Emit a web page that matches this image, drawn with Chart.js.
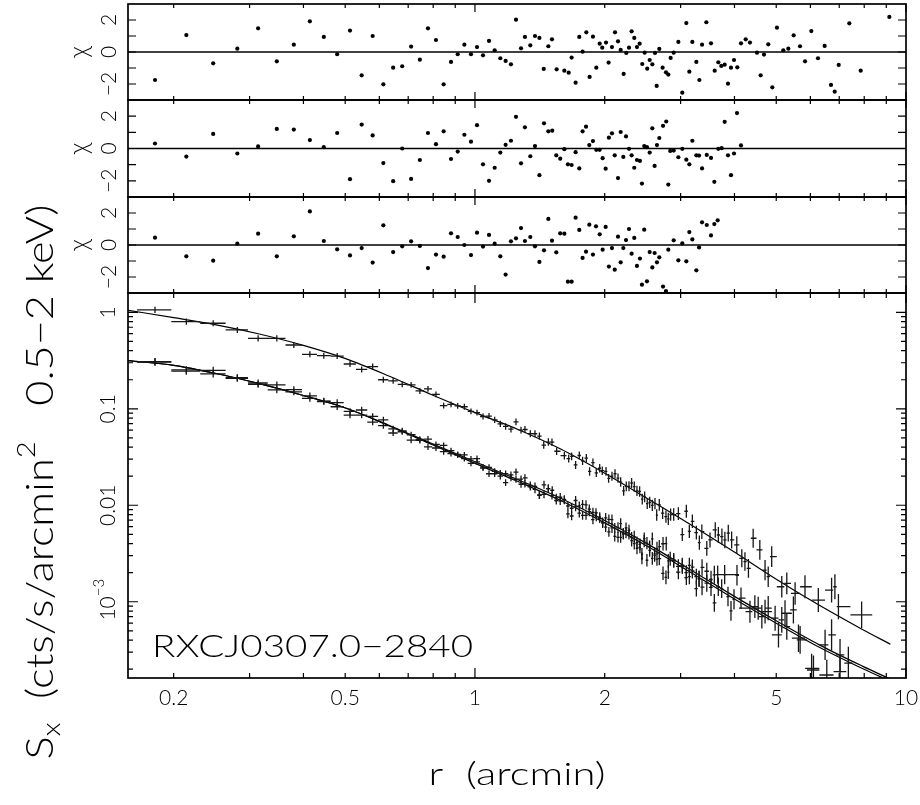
<!DOCTYPE html>
<html>
<head>
<meta charset="utf-8">
<script src="https://cdn.jsdelivr.net/npm/chart.js@4.4.1/dist/chart.umd.min.js"></script>
<style>
html, body { margin: 0; padding: 0; background: #fff; }
#wrap { position: relative; width: 920px; height: 805px; }
#wrap canvas { position: absolute; left: 0; top: 0; }
</style>
</head>
<body>
<div id="wrap">
  <canvas id="chi1" width="920" height="805"></canvas>
  <canvas id="chi2" width="920" height="805"></canvas>
  <canvas id="chi3" width="920" height="805"></canvas>
  <canvas id="prof" width="920" height="805"></canvas>
</div>
<script>
// ---- axes / ticks ----
const xMin = 0.1567, xMax = 10;
const xMajorTicks = [1, 10];
const xMinorTicks = [0.2, 0.3, 0.4, 0.5, 0.6, 0.7, 0.8, 0.9, 2, 3, 4, 5, 6, 7, 8, 9];
const xTickLabels = [0.2, 0.5, 1, 2, 5, 10];
const chiTicks = [-2, -1, 0, 1, 2];
const chiTickLabels = [2, 0, -2];
const sbMin = 1.62e-4, sbMax = 1.585;
const sbMajorTicks = [1, 0.1, 0.01, 0.001];
const sbTickLabels = ['1', '0.1', '0.01', '10^-3'];

// ---- residual panels (chi) ----
const chiR1 = [0.181,0.214,0.247,0.281,0.314,0.347,0.380,0.414,0.446,0.479,
  0.513,0.546,0.579,0.613,0.646,0.678,0.711,0.745,0.778,0.812,
  0.846,0.880,0.912,0.945,0.979,1.011,1.044,1.078,1.111,1.145,
  1.178,1.212,1.245,1.279,1.306,1.344,1.378,1.411,1.444,1.480,
  1.509,1.547,1.612,1.650,1.676,1.712,1.746,1.777,1.813,1.845,
  1.878,1.912,1.947,1.974,2.014,2.042,2.079,2.113,2.147,2.178,
  2.213,2.244,2.277,2.309,2.342,2.376,2.410,2.444,2.476,2.510,
  2.543,2.579,2.616,2.640,2.677,2.725,2.774,2.809,2.844,2.891,
  2.964,3.027,3.093,3.143,3.194,3.263,3.316,3.364,3.442,3.529,
  3.599,3.669,3.728,3.796,3.864,3.926,3.990,4.061,4.142,4.248,
  4.345,4.511,4.601,4.683,4.792,4.896,5.019,5.192,5.333,5.488,
  5.677,5.832,6.031,6.249,6.476,6.699,6.833,6.981,7.387,7.851,9.149];
const chi1 = [-1.75,1.06,-0.71,0.21,1.48,-0.58,0.46,1.92,0.94,-0.14,
  1.34,-1.46,1.0,-2.02,-0.98,-0.89,0.34,-0.48,1.48,0.75,
  -2.02,-0.62,-0.14,0.46,-0.14,0.31,-0.21,0.69,0.11,-0.39,
  -0.56,-0.77,2.02,0.23,0.94,0.42,1.0,0.88,-1.06,0.36,
  0.79,-1.08,-1.17,-1.29,-0.35,-1.92,0.94,0.02,1.23,-1.56,
  0.96,-0.98,0.52,0.27,0.59,-0.66,0.31,1.23,0.67,0.13,
  -1.37,-0.06,0.27,1.29,0.88,0.31,0.52,-0.75,-0.04,-1.04,
  -0.5,-0.77,-0.06,-2.12,0.19,-0.98,-1.27,-1.41,-0.37,-0.04,
  0.63,-2.54,1.81,-1.23,0.63,-0.62,-1.75,0.46,1.86,0.54,
  -1.17,-0.64,-0.87,-0.79,-1.98,-0.98,-0.5,-0.96,0.54,0.79,
  0.59,-0.04,-1.46,-0.16,0.48,-2.21,1.52,0.11,0.21,1.04,
  0.36,-0.58,1.31,-0.39,0.38,-2.06,-2.48,-0.81,1.79,-1.17,2.19];

const chiR2 = [0.181,0.214,0.247,0.281,0.314,0.347,0.380,0.414,0.446,0.479,
  0.513,0.546,0.579,0.613,0.646,0.678,0.711,0.745,0.778,0.812,
  0.846,0.880,0.912,0.945,0.979,1.011,1.044,1.078,1.111,1.145,
  1.178,1.212,1.245,1.279,1.306,1.344,1.378,1.411,1.446,1.480,
  1.511,1.544,1.577,1.612,1.643,1.676,1.712,1.746,1.777,1.810,
  1.842,1.878,1.912,1.947,1.978,2.010,2.045,2.079,2.110,2.147,
  2.178,2.209,2.241,2.277,2.309,2.342,2.376,2.414,2.440,2.470,
  2.506,2.543,2.579,2.611,2.644,2.677,2.731,2.778,2.809,2.838,
  2.891,2.964,3.027,3.093,3.143,3.194,3.263,3.311,3.364,3.450,
  3.529,3.592,3.669,3.736,3.796,3.864,3.926,3.990,4.054,4.142];
const chi2 = [0.31,-0.5,0.9,-0.31,0.13,1.21,1.17,0.52,0.08,0.96,
  -1.9,1.48,0.81,-0.9,-2.02,0.0,-1.88,-0.71,0.96,0.27,
  1.06,-0.65,-0.19,0.85,0.42,1.44,-0.98,-2.0,-1.19,-0.25,
  0.23,0.48,1.96,-0.92,1.31,-0.48,0.15,-1.65,1.56,1.06,
  1.1,-0.42,-0.63,-0.04,-0.98,-1.02,-0.23,-1.23,1.06,1.35,
  0.21,0.46,-0.08,-0.08,-0.6,-1.25,0.67,0.94,-0.42,-1.83,
  1.02,-0.52,0.75,-0.02,-0.42,-1.19,-0.71,-0.77,-2.17,0.15,
  0.08,-0.25,1.25,-1.08,0.21,0.65,1.4,1.67,-2.23,-0.15,
  -0.13,-0.54,-0.02,-0.69,-0.98,0.48,-0.42,-0.44,-1.23,-0.4,
  -0.58,-2.06,-0.02,0.02,1.65,-0.42,-1.65,-0.31,2.19,0.19];

const chiR3 = [0.181,0.214,0.247,0.281,0.314,0.347,0.380,0.414,0.446,0.479,
  0.513,0.546,0.579,0.613,0.646,0.678,0.711,0.745,0.778,0.812,
  0.846,0.880,0.912,0.945,0.979,1.011,1.044,1.078,1.111,1.145,
  1.178,1.212,1.245,1.279,1.306,1.344,1.378,1.411,1.446,1.480,
  1.509,1.544,1.577,1.612,1.643,1.676,1.712,1.746,1.777,1.810,
  1.842,1.878,1.909,1.947,1.978,2.010,2.045,2.079,2.110,2.147,
  2.178,2.209,2.241,2.277,2.309,2.342,2.376,2.414,2.440,2.470,
  2.506,2.543,2.579,2.611,2.644,2.677,2.731,2.774,2.809,2.891,
  2.964,3.027,3.093,3.143,3.194,3.263,3.311,3.364,3.450,3.529,
  3.592,3.657];
const chi3 = [0.46,-0.71,-0.98,0.08,0.71,-0.71,0.54,2.1,0.25,-0.27,
  -0.65,-0.19,-1.1,1.23,-0.44,-0.08,0.23,-0.06,-1.44,-0.6,
  -0.73,0.73,0.5,0.0,-0.63,0.77,-0.1,0.63,0.08,-0.71,
  -1.85,0.23,0.42,1.06,0.25,0.5,-0.08,-1.06,-0.33,1.63,
  0.27,-0.46,0.73,0.71,-2.29,-2.29,1.71,0.94,-0.81,-0.42,
  1.27,-0.6,1.17,0.67,-0.29,1.13,-1.35,-0.19,-1.54,0.52,
  -1.08,-0.19,0.31,1.0,-0.54,0.44,-1.31,-0.85,-2.48,0.96,
  -2.27,-0.44,-1.4,-0.5,-1.08,-0.77,-2.6,-2.88,-0.29,0.29,
  -0.96,0.1,-1.02,0.81,0.35,-1.58,-0.15,1.42,1.25,0.6,
  1.31,1.54];

// ---- surface brightness profiles (cts/s/arcmin^2) ----
const upperR = [0.181,0.214,0.247,0.281,0.314,0.347,0.380,0.414,0.446,0.479,
  0.513,0.546,0.579,0.613,0.646,0.678,0.711,0.745,0.778,0.812,
  0.846,0.880,0.912,0.945,0.979,1.011,1.044,1.078,1.111,1.145,
  1.178,1.212,1.245,1.279,1.306,1.344,1.378,1.411,1.444,1.480,
  1.509,1.547,1.612,1.650,1.676,1.712,1.746,1.777,1.813,1.845,
  1.878,1.912,1.947,1.974,2.014,2.042,2.079,2.113,2.147,2.178,
  2.213,2.244,2.277,2.309,2.342,2.376,2.410,2.444,2.476,2.510,
  2.543,2.579,2.616,2.640,2.677,2.725,2.774,2.809,2.844,2.891,
  2.964,3.027,3.093,3.143,3.194,3.263,3.316,
  3.36,3.45,3.51,3.61,3.67,3.74,3.80,3.87,3.94,4.05,
  4.16,4.23,4.31,4.42,4.58,4.71,4.79,4.88,5.15,5.29,
  5.53,5.83,6.26,6.72,6.84,6.97,7.89];
const upperS = [1.06,0.80,0.77,0.656,0.537,0.537,0.458,0.367,0.355,0.352,
  0.291,0.256,0.274,0.200,0.195,0.179,0.177,0.153,0.161,0.141,
  0.108,0.111,0.107,0.105,0.0940,0.0914,0.0832,0.0841,0.0766,0.0698,
  0.0656,0.0614,0.0730,0.0601,0.0610,0.0552,0.0551,0.0521,0.0421,0.0452,
  0.0451,0.0363,0.0327,0.0305,0.0321,0.0262,0.0328,0.0288,0.0308,0.0224,
  0.0276,0.0217,0.0242,0.0228,0.0224,0.0190,0.0200,0.0212,0.0191,0.0174,
  0.0141,0.0157,0.0157,0.0170,0.0156,0.0141,0.0139,0.0116,0.0122,0.0104,
  0.0107,0.00996,0.0104,0.00791,0.0101,0.00830,0.00762,0.00723,0.00800,0.00800,
  0.00820,0.00497,0.00867,0.00536,0.00681,0.00521,0.00410,
  0.00532,0.00358,0.00437,0.00555,0.00492,0.00473,0.00437,0.00513,0.00437,0.00388,
  0.00282,0.00261,0.00222,0.00455,0.00344,0.00213,0.00182,0.00293,0.00143,0.00155,
  0.00122,0.00143,0.00104,0.00132,0.00143,0.00089,0.00073];

const lowerAR = chiR2.concat([4.345,4.46,4.63,4.79,4.97,5.15,5.29,5.48,5.68,6.10,6.49,6.72,7.03,7.35]);
const lowerAS = [0.308,0.246,0.250,0.210,0.185,0.177,0.158,0.136,0.119,0.116,
  0.0861,0.0971,0.0834,0.0670,0.0561,0.0589,0.0473,0.0470,0.0485,0.0427,
  0.0417,0.0344,0.0331,0.0333,0.0303,0.0305,0.0243,0.0212,0.0212,0.0215,
  0.0212,0.0206,0.0221,0.0165,0.0192,0.0155,0.0157,0.0127,0.0163,0.0149,
  0.0143,0.0119,0.0111,0.0113,0.00982,0.00931,0.00964,0.00828,0.0102,0.0101,
  0.00857,0.00843,0.00764,0.00733,0.00665,0.00594,0.00714,0.00709,0.00579,0.00465,
  0.00644,0.00510,0.00582,0.00506,0.00461,0.00400,0.00412,0.00393,0.00312,0.00425,
  0.00405,0.00371,0.00449,0.00303,0.00358,0.00372,0.00399,0.00400,0.00203,0.00279,
  0.00266,0.00232,0.00239,0.00200,0.00182,0.00228,0.00182,0.00173,0.00142,0.00156,
  0.00141,0.000973,0.00143,0.00137,0.00191,0.00113,0.000804,0.00106,0.00188,0.00109,
  0.000789,0.000889,0.000700,0.000857,0.000675,0.000648,0.000552,0.000822,0.000402,0.000196,
  0.000357,0.000453,0.000281,0.000231];

const lowerBR = chiR3.concat([4.54,4.71,5.06,5.24,5.63,6.04,6.55,7.03]);
const lowerBS = [0.305,0.253,0.230,0.207,0.179,0.157,0.150,0.128,0.120,0.105,
  0.0938,0.0861,0.0726,0.0769,0.0619,0.0578,0.0538,0.0482,0.0403,0.0392,
  0.0359,0.0368,0.0337,0.0304,0.0272,0.0281,0.0249,0.0247,0.0224,0.0200,
  0.0172,0.0193,0.0186,0.0187,0.0167,0.0161,0.0146,0.0128,0.0130,0.0149,
  0.0126,0.0112,0.0121,0.0115,0.00813,0.00774,0.0112,0.00986,0.00787,0.00787,
  0.00912,0.00710,0.00834,0.00754,0.00652,0.00740,0.00530,0.00583,0.00475,0.00589,
  0.00465,0.00502,0.00519,0.00548,0.00429,0.00474,0.00358,0.00366,0.00282,0.00451,
  0.00269,0.00340,0.00282,0.00313,0.00276,0.00280,0.00197,0.00179,0.00265,0.00270,
  0.00203,0.00231,0.00178,0.00238,0.00209,0.00137,0.00173,0.00227,0.00207,0.00170,
  0.00190,0.00191,
  0.000857,0.000789,0.000453,0.00076,0.000419,0.000204,0.000174,0.000189];

// error bar half-size in dex, by radius
const upperErr = [[0.15,0.033],[1,0.03],[2,0.045],[3.2,0.07],[5,0.11],[8,0.14],[10,0.15]];
const lowerErr = [[0.15,0.04],[1,0.03],[2,0.05],[3.2,0.08],[5,0.13],[8,0.18],[10,0.2]];

// ---- fitted models ----
const modelR = [0.157,0.2,0.251,0.316,0.398,0.501,0.631,0.794,1,1.259,1.585,1.995,2.512,3.162,3.981,5.012,6.31,7.943,9.2];
const modelUpper = [1.047,0.881,0.741,0.596,0.457,0.331,0.219,0.140,0.0912,0.0610,0.0380,0.0216,0.01175,0.00631,0.00331,0.00170,0.000912,0.000513,0.000363];
const modelLowerA = [0.316,0.282,0.232,0.182,0.138,0.102,0.0676,0.0437,0.0282,0.0184,0.01175,0.0070,0.00398,0.00214,0.00115,0.000631,0.000355,0.000214,0.000158];
const modelLowerB = [0.316,0.282,0.232,0.182,0.138,0.102,0.0668,0.0427,0.0272,0.0176,0.01114,0.00661,0.00376,0.00202,0.00108,0.000596,0.000335,0.000202,0.000150];

const FONT = "Lato, 'Open Sans', Roboto, sans-serif";
const WEIGHT = 300;

function pts(xs, ys) { return xs.map((v, i) => ({ x: v, y: ys[i] })); }

function errAt(table, r) {
  for (let i = 1; i < table.length; i++) {
    if (r <= table[i][0]) {
      const a = table[i - 1], b = table[i];
      const t = (Math.log10(r) - Math.log10(a[0])) / (Math.log10(b[0]) - Math.log10(a[0]));
      return a[1] + t * (b[1] - a[1]);
    }
  }
  return table[table.length - 1][1];
}

// runs of text laid along a (possibly rotated) baseline, centred on x,y
function drawRuns(ctx, runs, x, y, rot, fitWidth, base) {
  ctx.save();
  ctx.translate(x, y);
  if (rot) ctx.rotate(rot);
  let total = 0;
  runs.forEach(r => { ctx.font = `${WEIGHT} ${r.size}px ${FONT}`; r.w = ctx.measureText(r.t).width; total += r.w; });
  const k = fitWidth ? fitWidth / total : 1;
  ctx.scale(k, 1);
  ctx.textBaseline = base || 'alphabetic';
  ctx.textAlign = 'left';
  ctx.fillStyle = '#000';
  let cx = -total / 2;
  runs.forEach(r => {
    ctx.font = `${WEIGHT} ${r.size}px ${FONT}`;
    ctx.fillText(r.t, cx, r.dy || 0);
    cx += r.w;
  });
  ctx.restore();
}

function drawFrame(chart, yTicks, yLen, xMaj, xMin, yMinor, yMinLen) {
  const { ctx, chartArea: a, scales: { x, y } } = chart;
  ctx.save();
  ctx.strokeStyle = '#000';
  ctx.lineWidth = 1.2;
  ctx.beginPath();
  xMinorTicks.forEach(v => {
    const px = x.getPixelForValue(v);
    ctx.moveTo(px, a.bottom); ctx.lineTo(px, a.bottom - xMin);
    ctx.moveTo(px, a.top); ctx.lineTo(px, a.top + xMin);
  });
  xMajorTicks.forEach(v => {
    const px = x.getPixelForValue(v);
    ctx.moveTo(px, a.bottom); ctx.lineTo(px, a.bottom - xMaj);
    ctx.moveTo(px, a.top); ctx.lineTo(px, a.top + xMaj);
  });
  yTicks.forEach(v => {
    const py = y.getPixelForValue(v);
    ctx.moveTo(a.left, py); ctx.lineTo(a.left + yLen, py);
    ctx.moveTo(a.right, py); ctx.lineTo(a.right - yLen, py);
  });
  (yMinor || []).forEach(v => {
    const py = y.getPixelForValue(v);
    ctx.moveTo(a.left, py); ctx.lineTo(a.left + yMinLen, py);
    ctx.moveTo(a.right, py); ctx.lineTo(a.right - yMinLen, py);
  });
  ctx.stroke();
  ctx.lineWidth = 1.7;
  ctx.strokeRect(a.left, a.top, a.right - a.left, a.bottom - a.top);
  ctx.restore();
}

function drawErrorBars(chart, rs, ss, table) {
  const { ctx, chartArea: a, scales: { x, y } } = chart;
  ctx.save();
  ctx.beginPath();
  ctx.rect(a.left, a.top, a.right - a.left, a.bottom - a.top);
  ctx.clip();
  ctx.strokeStyle = '#161616';
  ctx.lineWidth = 1.3;
  ctx.beginPath();
  rs.forEach((r, i) => {
    const lo = i > 0 ? (r - rs[i - 1]) / 2 : (rs[1] - r) / 2;
    const hi = i < rs.length - 1 ? (rs[i + 1] - r) / 2 : lo;
    const f = Math.pow(10, errAt(table, r));
    const px = x.getPixelForValue(r), py = y.getPixelForValue(ss[i]);
    ctx.moveTo(x.getPixelForValue(r - lo), py);
    ctx.lineTo(x.getPixelForValue(r + hi), py);
    ctx.moveTo(px, y.getPixelForValue(ss[i] * f));
    ctx.lineTo(px, y.getPixelForValue(ss[i] / f));
  });
  ctx.stroke();
  ctx.restore();
}

function baseOptions(padTop, padBottom, yScale) {
  return {
    responsive: false,
    animation: false,
    events: [],
    layout: { padding: { left: 128, right: 14, top: padTop, bottom: padBottom } },
    plugins: { legend: { display: false }, tooltip: { enabled: false } },
    scales: {
      x: { type: 'logarithmic', min: xMin, max: xMax, display: false },
      y: Object.assign({ display: false }, yScale)
    }
  };
}

function chiPanel(id, padTop, padBottom, rs, chis) {
  return new Chart(document.getElementById(id), {
    type: 'scatter',
    data: {
      datasets: [{
        data: pts(rs, chis),
        pointRadius: 2.1,
        pointBackgroundColor: '#000',
        pointBorderWidth: 0
      }]
    },
    options: baseOptions(padTop, padBottom, { type: 'linear', min: -3, max: 3 }),
    plugins: [{
      id: 'chiFrame',
      beforeDatasetsDraw(chart) {
        const { ctx, chartArea: a, scales: { y } } = chart;
        const py = y.getPixelForValue(0);
        ctx.save();
        ctx.strokeStyle = '#000';
        ctx.lineWidth = 1.5;
        ctx.beginPath(); ctx.moveTo(a.left, py); ctx.lineTo(a.right, py); ctx.stroke();
        ctx.restore();
      },
      afterDatasetsDraw(chart) {
        const { ctx, scales: { y } } = chart;
        drawFrame(chart, chiTicks, 8, 8, 4);
        chiTickLabels.forEach(v => {
          const t = v < 0 ? '\u2212' + Math.abs(v) : String(v);
          drawRuns(ctx, [{ t, size: 21 }], 109, y.getPixelForValue(v), -Math.PI / 2, null, 'middle');
        });
        drawRuns(ctx, [{ t: '\u03c7', size: 25 }], 79, y.getPixelForValue(0), -Math.PI / 2, null, 'middle');
      }
    }]
  });
}

chiPanel('chi1', 4, 805 - 100, chiR1, chi1);
chiPanel('chi2', 100, 805 - 197, chiR2, chi2);
chiPanel('chi3', 197, 805 - 293, chiR3, chi3);

const sbMinor = [];
[1e-4, 1e-3, 1e-2, 1e-1].forEach(d => { for (let m = 2; m <= 9; m++) sbMinor.push(d * m); });

function modelSet(ys) {
  return {
    data: pts(modelR, ys),
    showLine: true,
    borderColor: '#000',
    borderWidth: 1.2,
    pointRadius: 0,
    cubicInterpolationMode: 'monotone'
  };
}

new Chart(document.getElementById('prof'), {
  type: 'scatter',
  data: {
    datasets: [
      modelSet(modelUpper),
      modelSet(modelLowerA),
      modelSet(modelLowerB),
      { data: pts(upperR, upperS), pointRadius: 0 },
      { data: pts(lowerAR, lowerAS), pointRadius: 0 },
      { data: pts(lowerBR, lowerBS), pointRadius: 0 }
    ]
  },
  options: baseOptions(293, 805 - 678, { type: 'logarithmic', min: sbMin, max: sbMax }),
  plugins: [{
    id: 'profFrame',
    afterDatasetsDraw(chart) {
      const { ctx, scales: { x, y } } = chart;
      drawErrorBars(chart, upperR, upperS, upperErr);
      drawErrorBars(chart, lowerAR, lowerAS, lowerErr);
      drawErrorBars(chart, lowerBR, lowerBS, lowerErr);
      drawFrame(chart, sbMajorTicks, 10, 10, 5, sbMinor, 5);

      // x tick labels
      xTickLabels.forEach(v => {
        drawRuns(ctx, [{ t: String(v), size: 21 }], x.getPixelForValue(v), 698, 0, null, 'middle');
      });
      // y tick labels (rotated)
      sbMajorTicks.forEach((v, i) => {
        const lab = sbTickLabels[i];
        const py = y.getPixelForValue(v);
        if (lab.indexOf('^') > 0) {
          const [b, e] = lab.split('^');
          drawRuns(ctx, [{ t: b, size: 21 }, { t: e.replace('-', '\u2212'), size: 15, dy: -9 }], 108, py - 2, -Math.PI / 2, null, 'middle');
        } else {
          drawRuns(ctx, [{ t: lab, size: 21 }], 108, py, -Math.PI / 2, null, 'middle');
        }
      });
      // cluster name
      ctx.save();
      ctx.font = `${WEIGHT} 31px ${FONT}`;
      ctx.textBaseline = 'alphabetic';
      ctx.fillStyle = '#000';
      const name = 'RXCJ0307.0\u22122840';
      const w = ctx.measureText(name).width;
      ctx.translate(152, 657);
      ctx.scale(321 / w, 1);
      ctx.fillText(name, 0, 0);
      ctx.restore();
      // axis titles
      drawRuns(ctx, [{ t: 'r  (arcmin)', size: 32 }], 517, 775, 0, 177, 'middle');
      drawRuns(ctx, [
        { t: 'S', size: 37 },
        { t: 'x', size: 25, dy: 7 },
        { t: '  (cts/s/arcmin', size: 37 },
        { t: '2', size: 25, dy: -18 },
        { t: '   0.5\u22122 keV)', size: 37 }
      ], 53, 482, -Math.PI / 2, 555);
    }
  }]
});
</script>
</body>
</html>
